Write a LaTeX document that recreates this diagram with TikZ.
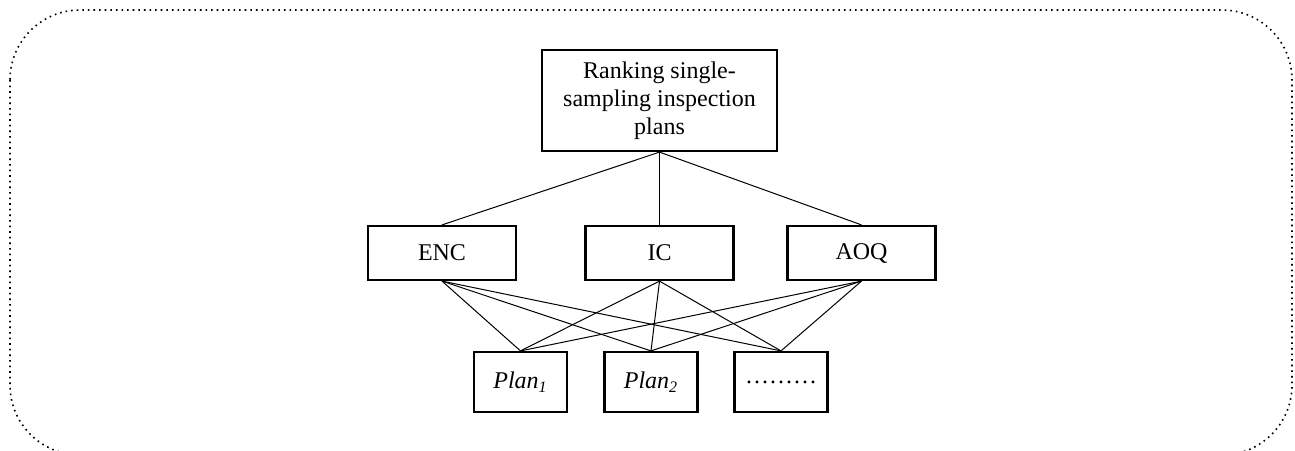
\documentclass[tikz,border=0pt]{standalone}
\usepackage{fontspec}
\setmainfont{Liberation Serif}
\tikzstyle{crit} = [draw, line width=1.1pt, minimum width=74pt, minimum height=27pt, inner sep=0pt]
\tikzstyle{goal} = [draw, line width=1.1pt, minimum width=117.5pt, minimum height=50.5pt, inner sep=0pt, align=center]
\tikzstyle{plan} = [draw, line width=1.1pt, minimum width=46.5pt, minimum height=30pt, inner sep=0pt]
\tikzstyle{link} = [line width=0.5pt]
\begin{document}
\begin{tikzpicture}[x=0.5pt, y=-0.5pt, font=\fontsize{12}{14}\selectfont]
\useasboundingbox (0,0) rectangle (1295,450);
\clip (0,0) rectangle (1295,450);
% frame
\draw[line width=0.8pt, dotted, rounded corners=35pt] (10,10) rectangle (1292,455);
% goal
\node[goal] (rank) at (659.5,100.5) {Ranking single-\\sampling inspection\\plans};
% criteria
\node[crit] (enc) at (442,253) {ENC};
\node[crit] (ic) at (659.5,253) {IC};
\node[crit] (aoq) at (861.5,253) {AOQ};
% alternatives
\node[plan] (p1) at (520.5,382) {\textit{Plan}\textsubscript{\textit{1}}};
\node[plan] (p2) at (651,382) {\textit{Plan}\textsubscript{\textit{2}}};
\node[plan] (pn) at (781,382) {………};
% links
\foreach \c in {enc,ic,aoq}
    \draw[link] (rank.south) -- (\c.north);
\foreach \c in {enc,ic,aoq}
    \foreach \p in {p1,p2,pn}
        \draw[link] (\c.south) -- (\p.north);
\end{tikzpicture}
\end{document}
